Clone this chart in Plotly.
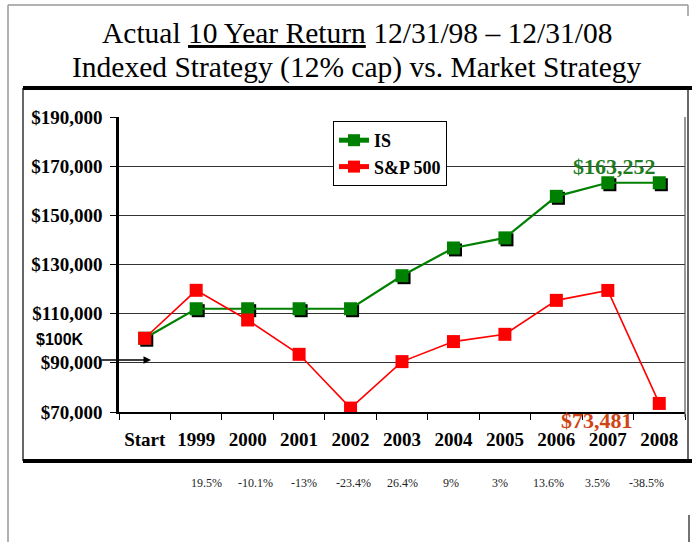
import plotly.graph_objects as go

categories = ["Start", "1999", "2000", "2001", "2002", "2003", "2004", "2005", "2006", "2007", "2008"]
is_values = [100000, 112000, 112000, 112000, 112000, 125440, 136730, 140832, 157732, 163252, 163252]
sp_values = [100000, 119500, 107430, 93464, 71594, 90495, 98640, 101599, 115417, 119457, 73481]
returns = ["19.5%", "-10.1%", "-13%", "-23.4%", "26.4%", "9%", "3%", "13.6%", "3.5%", "-38.5%"]
y_ticks = [70000, 90000, 110000, 130000, 150000, 170000, 190000]
y_tick_labels = ["$70,000", "$90,000", "$110,000", "$130,000", "$150,000", "$170,000", "$190,000"]
is_end_label = "$163,252"
sp_end_label = "$73,481"

SERIF = "Liberation Serif, Times New Roman, serif"
GREEN = "#008000"
RED = "#FF0000"

xs = list(range(len(categories)))

fig = go.Figure()

# shadow for the IS markers
fig.add_trace(go.Scatter(
    x=[x + 0.04 for x in xs], y=[v - 800 for v in is_values],
    mode="markers", marker=dict(symbol="square", size=13, color="black"),
    showlegend=False, hoverinfo="skip"))

fig.add_trace(go.Scatter(
    x=xs, y=is_values, name="<b>IS</b>", mode="lines+markers",
    line=dict(color=GREEN, width=2.2),
    marker=dict(symbol="square", size=13, color=GREEN)))

fig.add_trace(go.Scatter(
    x=xs, y=sp_values, name="<b>S&P 500</b>", mode="lines+markers",
    line=dict(color=RED, width=1.6),
    marker=dict(symbol="square", size=13, color=RED)))

annotations = []
# title lines
annotations.append(dict(xref="paper", yref="paper", x=(357 - 119) / 566, y=(412 - 33) / 295,
                        text="Actual <u>10 Year Return</u> 12/31/98 \u2013 12/31/08",
                        showarrow=False, font=dict(family=SERIF, size=29.5, color="black"),
                        xanchor="center", yanchor="middle"))
annotations.append(dict(xref="paper", yref="paper", x=(357 - 119) / 566, y=(412 - 67) / 295,
                        text="Indexed Strategy (12% cap) vs. Market Strategy",
                        showarrow=False, font=dict(family=SERIF, size=29.5, color="black"),
                        xanchor="center", yanchor="middle"))
# end value labels
annotations.append(dict(x=xs[-2], y=is_values[-2], text="<b>%s</b>" % is_end_label, showarrow=False,
                        font=dict(family=SERIF, size=22, color="#1E7B1E"),
                        xanchor="center", yanchor="middle", xshift=7, yshift=16))
annotations.append(dict(x=xs[-1], y=sp_values[-1], text="<b>%s</b>" % sp_end_label, showarrow=False,
                        font=dict(family=SERIF, size=22, color="#D04515"),
                        xanchor="center", yanchor="middle", xshift=-62, yshift=-17))
# $100K with arrow
annotations.append(dict(xref="paper", yref="paper", x=(60 - 119) / 566, y=(412 - 339) / 295,
                        text="<b>$100K</b>", showarrow=False,
                        font=dict(family="Liberation Sans, Arial, sans-serif", size=16, color="black"),
                        xanchor="center", yanchor="middle"))
annotations.append(dict(xref="paper", yref="paper", x=(151 - 119) / 566, y=(412 - 360) / 295,
                        ax=-51, ay=0, axref="pixel", ayref="pixel",
                        text="", showarrow=True, arrowhead=2, arrowsize=1, arrowwidth=1.5,
                        arrowcolor="black"))
# yearly returns
for i, r in enumerate(returns):
    annotations.append(dict(x=0.95 * (i + 1) + 0.25, y=(412 - 483) / 295, yref="paper",
                            text=r, showarrow=False,
                            font=dict(family=SERIF, size=12, color="#222222"),
                            xanchor="center", yanchor="middle"))

shapes = [
    # outer gray frame
    dict(type="line", xref="paper", yref="paper", x0=(8 - 119) / 566, x1=(8 - 119) / 566,
         y0=(412 - 5) / 295, y1=(412 - 542) / 295, line=dict(color="#999999", width=1.5)),
    dict(type="line", xref="paper", yref="paper", x0=(8 - 119) / 566, x1=(688 - 119) / 566,
         y0=(412 - 5) / 295, y1=(412 - 5) / 295, line=dict(color="#999999", width=1.5)),
    dict(type="line", xref="paper", yref="paper", x0=(688 - 119) / 566, x1=(688 - 119) / 566,
         y0=(412 - 5) / 295, y1=(412 - 16) / 295, line=dict(color="#999999", width=1.5)),
    dict(type="line", xref="paper", yref="paper", x0=(689 - 119) / 566, x1=(689 - 119) / 566,
         y0=(412 - 515) / 295, y1=(412 - 542) / 295, line=dict(color="#444444", width=1.5)),
    # chart box
    dict(type="line", xref="paper", yref="paper", x0=(23 - 119) / 566, x1=(23 - 119) / 566,
         y0=(412 - 88) / 295, y1=(412 - 461) / 295, line=dict(color="black", width=1.2)),
    dict(type="line", xref="paper", yref="paper", x0=(688 - 119) / 566, x1=(688 - 119) / 566,
         y0=(412 - 88) / 295, y1=(412 - 461) / 295, line=dict(color="black", width=1.2)),
    dict(type="line", xref="paper", yref="paper", x0=(23 - 119) / 566, x1=(692 - 119) / 566,
         y0=(412 - 88) / 295, y1=(412 - 88) / 295, line=dict(color="black", width=4)),
    dict(type="line", xref="paper", yref="paper", x0=(23 - 119) / 566, x1=(692 - 119) / 566,
         y0=(412 - 461) / 295, y1=(412 - 461) / 295, line=dict(color="black", width=4)),
    # plot area right border
    dict(type="line", xref="paper", yref="paper", x0=1, x1=1, y0=(412 - 417) / 295, y1=1,
         line=dict(color="#555555", width=1.2)),
]

fig.update_layout(
    width=694, height=542,
    margin=dict(l=119, r=9, t=117, b=130),
    paper_bgcolor="white", plot_bgcolor="white",
    showlegend=True,
    legend=dict(x=(333 - 119) / 566, y=(412 - 121) / 295, xanchor="left", yanchor="top",
                bgcolor="white", bordercolor="black", borderwidth=1,
                font=dict(family=SERIF, size=18, color="black"),
                itemsizing="constant", tracegroupgap=0),
    annotations=annotations,
    shapes=shapes,
    xaxis=dict(range=[-0.5, 10.5], tickmode="array", tickvals=xs,
               ticktext=["<b>%s</b>" % c for c in categories],
               tickfont=dict(family=SERIF, size=19, color="black"),
               ticks="", showgrid=False, zeroline=False,
               showline=True, linecolor="black", linewidth=1.5,
               ticklabelstandoff=9,
               minor=dict(tickmode="linear", tick0=0.5, dtick=1, ticks="outside",
                          ticklen=6, tickcolor="black", tickwidth=1.2, showgrid=False)),
    yaxis=dict(range=[70000, 190000], tickmode="array", tickvals=y_ticks,
               ticktext=["<b>%s</b>" % t for t in y_tick_labels],
               tickfont=dict(family=SERIF, size=19, color="black"),
               ticks="outside", ticklen=6, tickcolor="black", tickwidth=1.2,
               showgrid=True, gridcolor="#333333", gridwidth=1,
               zeroline=False, showline=True, linecolor="black", linewidth=2.5,
               ticklabelstandoff=4),
)

fig.write_html("out.html", config={"displayModeBar": False},
               post_script="document.body.style.margin='0';")
